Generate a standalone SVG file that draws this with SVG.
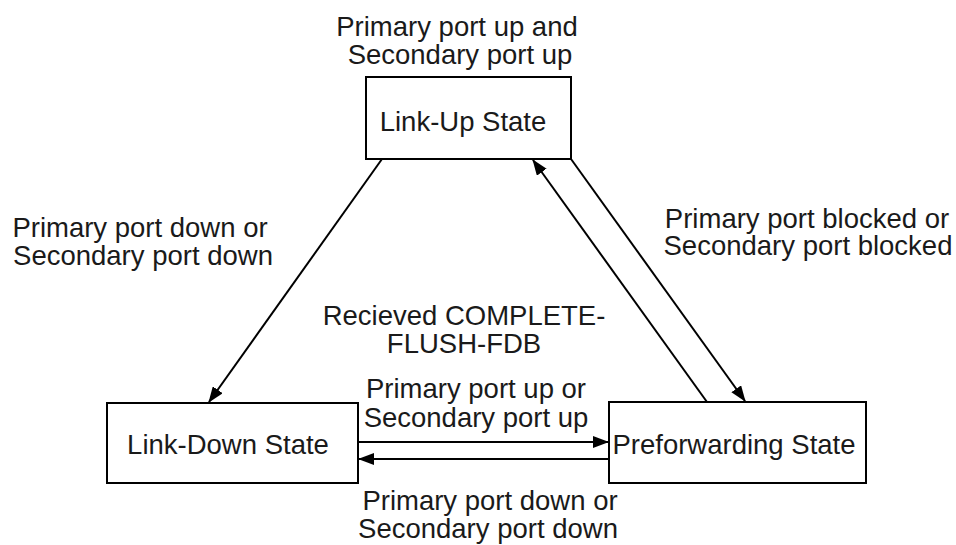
<svg xmlns="http://www.w3.org/2000/svg" width="956" height="545" viewBox="0 0 956 545">
<style>
text{font-family:"Liberation Sans",Arial,sans-serif;font-size:27.5px;fill:#1a1a1a;text-anchor:middle}
.box{fill:#fff;stroke:#000;stroke-width:2}
.edge{fill:none;stroke:#000;stroke-width:2}
</style>
<defs>
<marker id="ah" markerUnits="userSpaceOnUse" markerWidth="16" markerHeight="12" refX="15" refY="6" orient="auto" viewBox="0 0 16 12">
<path d="M0,0 L16,6 L0,12 z" fill="#000"/>
</marker>
</defs>
<rect width="956" height="545" fill="#fff"/>
<g id="connectors">
<line class="edge" x1="382" y1="159" x2="209" y2="402" marker-end="url(#ah)"/>
<line class="edge" x1="571" y1="159" x2="745" y2="401" marker-end="url(#ah)"/>
<line class="edge" x1="707" y1="402" x2="533" y2="160" marker-end="url(#ah)"/>
<line class="edge" x1="358" y1="442" x2="608" y2="442" marker-end="url(#ah)"/>
<line class="edge" x1="609" y1="459" x2="359" y2="459" marker-end="url(#ah)"/>
</g>
<g id="link-up">
<rect class="box" x="366" y="77" width="205" height="82"/>
<text x="463" y="131">Link-Up State</text>
</g>
<g id="link-down">
<rect class="box" x="107" y="403" width="251" height="80"/>
<text x="228" y="454">Link-Down State</text>
</g>
<g id="preforwarding">
<rect class="box" x="609" y="402" width="257" height="81"/>
<text x="734" y="454">Preforwarding State</text>
</g>
<g id="labels">
<text x="457" y="36">Primary port up and</text>
<text x="460" y="64">Secondary port up</text>
<text x="140" y="237">Primary port down or</text>
<text x="143" y="265">Secondary port down</text>
<text x="807" y="228">Primary port blocked or</text>
<text x="808" y="255">Secondary port blocked</text>
<text x="464" y="325">Recieved COMPLETE-</text>
<text x="464" y="353">FLUSH-FDB</text>
<text x="476" y="398">Primary port up or</text>
<text x="476" y="427">Secondary port up</text>
<text x="490" y="510">Primary port down or</text>
<text x="488" y="538">Secondary port down</text>
</g>
</svg>
